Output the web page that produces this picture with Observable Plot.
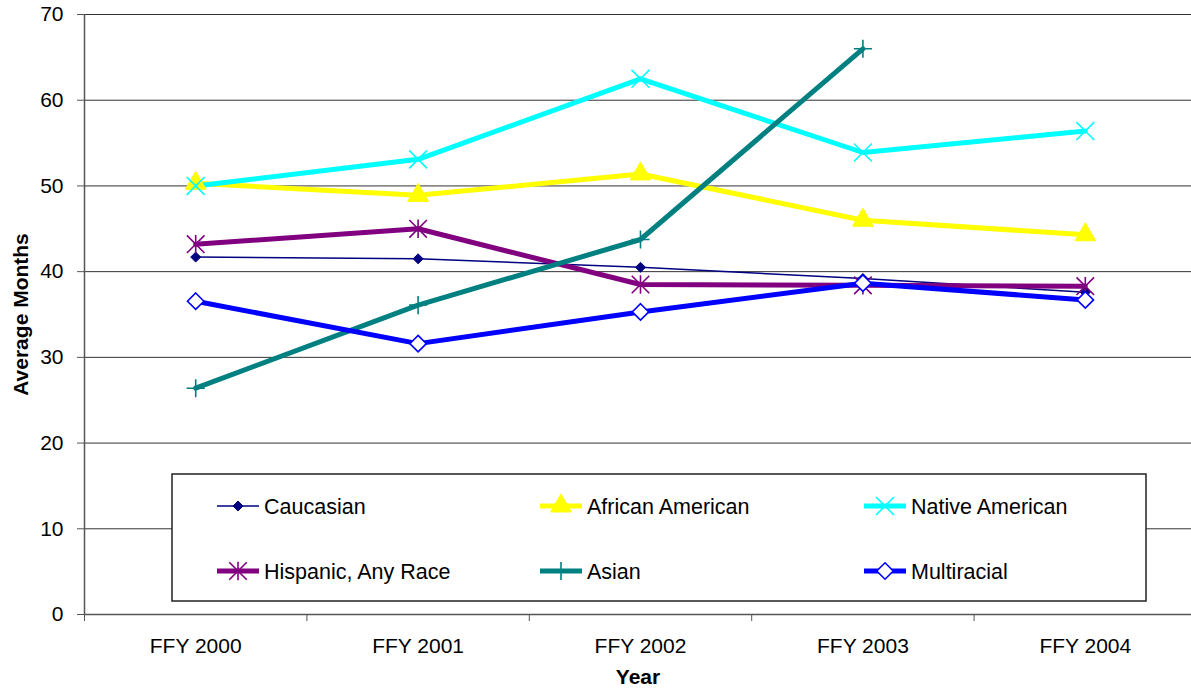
<!DOCTYPE html>
<html><head><meta charset="utf-8">
<script src="https://cdn.jsdelivr.net/npm/d3@7"></script>
<script src="https://cdn.jsdelivr.net/npm/@observablehq/plot@0.6"></script>
<style>body{margin:0;background:#fff;} svg{display:block}</style>
</head><body><div id="chart"></div>
<script>
// ---- data ----
const years = ["FFY 2000", "FFY 2001", "FFY 2002", "FFY 2003", "FFY 2004"];
const seriesNames = ["Caucasian", "African American", "Native American", "Hispanic, Any Race", "Asian", "Multiracial"];
const caucasian       = [41.7, 41.5, 40.5, 39.2, 37.6];
const africanAmerican = [50.3, 48.9, 51.4, 46.0, 44.3];
const nativeAmerican  = [50.0, 53.1, 62.5, 53.9, 56.4];
const hispanic        = [43.2, 45.0, 38.5, 38.4, 38.3];
const asian           = [26.4, 36.1, 43.75, 66.0, null];
const multiracial     = [36.55, 31.6, 35.3, 38.65, 36.7];
const yTicks = [0, 10, 20, 30, 40, 50, 60, 70];
const yAxisLabel = "Average Months";
const xAxisLabel = "Year";

// ---- styles ----
// Excel-style asterisk: an X plus a vertical stroke
const starSymbol = {
  draw(context, size) {
    const r = Math.sqrt(size) * 0.55;
    context.moveTo(-r, -r); context.lineTo(r, r);
    context.moveTo(-r, r); context.lineTo(r, -r);
    context.moveTo(0, -r * 1.05); context.lineTo(0, r * 1.05);
  }
};
const seriesValues = [caucasian, africanAmerican, nativeAmerican, hispanic, asian, multiracial];
const styles = [
  {color: "#000080", width: 1.5, symbol: d3.symbolDiamond2, r: 4.5, fill: "#000080", sw: 1},
  {color: "#FFFF00", width: 5, symbol: d3.symbolTriangle, r: 7.7, fill: "#FFFF00", sw: 1},
  {color: "#00FFFF", width: 5, symbol: d3.symbolTimes, r: 8.2, fill: "none", sw: 1.6},
  {color: "#800080", width: 5, symbol: starSymbol, r: 9.0, fill: "none", sw: 1.6},
  {color: "#008080", width: 5, symbol: d3.symbolPlus, r: 5.9, fill: "none", sw: 1.6},
  {color: "#0000FF", width: 5, symbol: d3.symbolDiamond2, r: 7.4, fill: "white", sw: 1.6}
];

const rows = [];
seriesNames.forEach((name, s) => {
  seriesValues[s].forEach((v, i) => { if (v != null) rows.push({series: name, s, i, value: v}); });
});

const W = 1191, H = 696;
const font = "'Liberation Sans', Arial, Helvetica, sans-serif";

const marks = [
  Plot.ruleY(yTicks.filter(d => d > 0), {stroke: "#333", strokeWidth: 1}),
  Plot.ruleY([0], {stroke: "#555", strokeWidth: 1.5}),
  Plot.ruleX([-0.5], {stroke: "#555", strokeWidth: 1.5}),
  Plot.axisY(yTicks, {tickSize: 7, tickPadding: 14, fontSize: 21, label: null, stroke: "#555"}),
  Plot.axisX([-0.5, 0.5, 1.5, 2.5, 3.5, 4.5], {tickSize: 7, tickFormat: () => "", label: null, stroke: "#555"}),
  Plot.axisX([0, 1, 2, 3, 4], {tickSize: 0, tickPadding: 24, tickFormat: i => years[i], fontSize: 21, label: null}),
  Plot.text([xAxisLabel], {frameAnchor: "bottom", dy: 69, fontWeight: "bold", fontSize: 21, fill: "#000"}),
  Plot.text([yAxisLabel], {frameAnchor: "left", textAnchor: "middle", dx: -63, rotate: -90, fontWeight: "bold", fontSize: 21, fill: "#000"})
];
seriesNames.forEach((name, s) => {
  const st = styles[s];
  const d = rows.filter(r => r.s === s);
  marks.push(Plot.line(d, {x: "i", y: "value", stroke: st.color, strokeWidth: st.width}));
});
seriesNames.forEach((name, s) => {
  const st = styles[s];
  const d = rows.filter(r => r.s === s);
  marks.push(Plot.dot(d, {x: "i", y: "value", symbol: st.symbol, r: st.r,
    fill: st.fill, stroke: st.color, strokeWidth: st.sw}));
});

const chart = Plot.plot({
  width: W, height: H,
  marginLeft: 84, marginRight: 0, marginTop: 14, marginBottom: 82,
  style: {fontFamily: font, color: "#000", background: "#fff"},
  x: {type: "linear", domain: [-0.5, 4.5], range: [84, 1196]},
  y: {domain: [0, 70], range: [614, 14]},
  marks
});
document.getElementById("chart").appendChild(chart);

// ---- legend (inside the plot area) ----
const svg = d3.select(chart);
const lg = svg.append("g").attr("text-anchor", "start");
lg.append("rect").attr("x", 172).attr("y", 474).attr("width", 974).attr("height", 127)
  .attr("fill", "white").attr("stroke", "#222").attr("stroke-width", 1.5);
const colX = [217, 540, 864], rowY = [506, 571];
seriesNames.forEach((name, s) => {
  const st = styles[s];
  const x0 = colX[s % 3], y0 = rowY[Math.floor(s / 3)];
  lg.append("line").attr("x1", x0).attr("x2", x0 + 42).attr("y1", y0).attr("y2", y0)
    .attr("stroke", st.color).attr("stroke-width", st.width);
  lg.append("path").attr("transform", `translate(${x0 + 21},${y0})`)
    .attr("d", d3.symbol(st.symbol, Math.PI * st.r * st.r)())
    .attr("fill", st.fill).attr("stroke", st.color).attr("stroke-width", st.sw);
  lg.append("text").attr("x", x0 + 47).attr("y", y0).attr("dy", "0.36em")
    .attr("text-anchor", "start")
    .attr("font-size", 21.5).attr("font-family", font).attr("fill", "#000").text(name);
});
</script>
</body></html>
